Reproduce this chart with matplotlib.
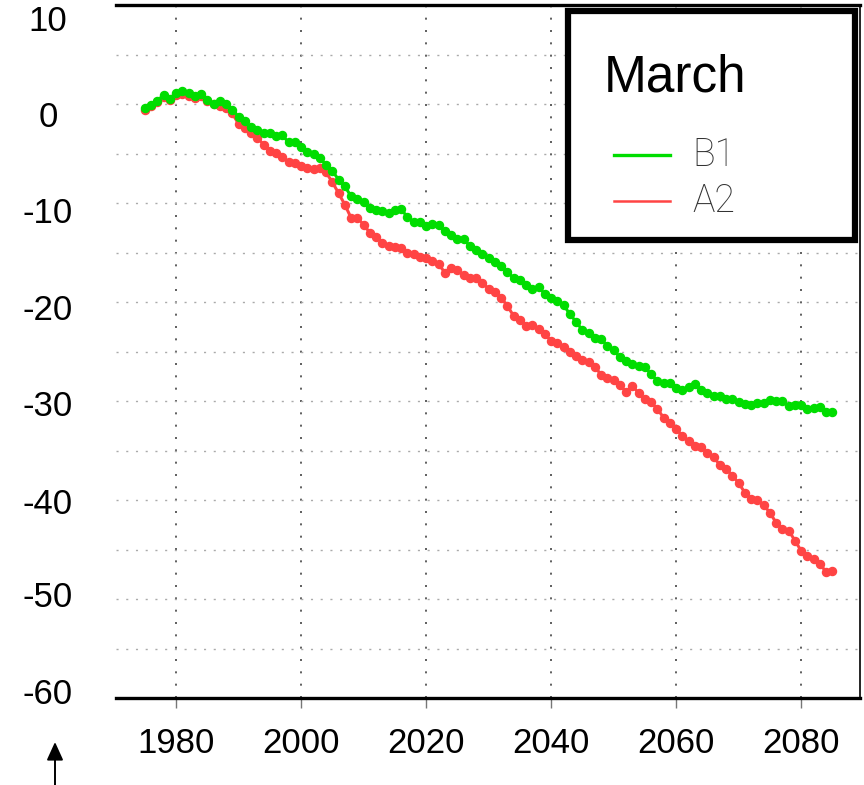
import matplotlib
matplotlib.use("Agg")
import matplotlib.pyplot as plt
import matplotlib.transforms as mtransforms
from matplotlib.lines import Line2D
from matplotlib.patches import Rectangle, FancyArrowPatch
import numpy as np

plt.rcParams['font.family'] = ['Liberation Sans', 'DejaVu Sans']

years = list(range(1975, 2086))

b1 = [-0.44, -0.10, 0.30, 0.91, 0.55, 1.10, 1.32, 1.07, 0.78, 0.99,
      0.44, -0.02, 0.27, 0.03, -0.57, -1.28, -1.73, -2.35, -2.58, -2.95,
      -2.89, -3.22, -3.17, -3.87, -3.82, -4.30, -4.80, -5.09, -5.47, -6.14,
      -6.75, -7.65, -8.31, -9.33, -9.57, -9.90, -10.5, -10.7, -10.8, -11.0,
      -10.7, -10.63, -11.4, -11.9, -11.95, -12.35, -12.15, -12.25, -12.83, -13.25,
      -13.6, -13.63, -14.37, -14.7, -15.2, -15.54, -15.95, -16.38, -16.99, -17.56,
      -17.79, -18.33, -18.66, -18.46, -19.23, -19.64, -19.9, -20.3, -21.25, -22.0,
      -22.86, -23.1, -23.6, -23.77, -24.4, -24.84, -25.6, -25.95, -26.28, -26.45,
      -26.6, -27.3, -27.96, -28.2, -28.2, -28.7, -28.9, -28.57, -28.3, -28.9,
      -29.2, -29.47, -29.47, -29.8, -29.8, -30.14, -30.3, -30.38, -30.2, -30.25,
      -29.88, -30.04, -30.04, -30.55, -30.38, -30.38, -30.8, -30.75, -30.65, -31.15,
      -31.08]

a2 = [-0.60, -0.20, 0.20, 0.67, 0.45, 0.87, 1.00, 0.80, 0.60, 0.76,
      0.30, -0.05, -0.24, -0.45, -0.95, -2.00, -2.45, -2.90, -3.40, -4.10,
      -4.70, -4.90, -5.35, -5.85, -5.95, -6.25, -6.50, -6.60, -6.45, -6.90,
      -7.90, -9.00, -10.17, -11.5, -11.5, -12.19, -13.0, -13.4, -14.0, -14.3,
      -14.4, -14.5, -15.05, -15.2, -15.42, -15.6, -15.85, -16.15, -17.05, -16.55,
      -16.8, -17.3, -17.56, -17.6, -18.06, -18.66, -19.0, -19.57, -20.4, -21.4,
      -21.8, -22.4, -22.36, -22.76, -23.26, -23.9, -24.17, -24.5, -25.1, -25.45,
      -25.85, -26.1, -26.55, -27.36, -27.7, -27.9, -28.36, -29.1, -28.47, -29.2,
      -29.8, -30.14, -30.8, -31.7, -32.26, -32.8, -33.57, -34.07, -34.5, -34.68,
      -35.28, -35.7, -36.46, -36.86, -37.53, -38.3, -39.27, -39.9, -40.05, -40.5,
      -41.3, -42.3, -42.9, -43.1, -44.1, -45.15, -45.65, -46.0, -46.5, -47.26,
      -47.16]

xticks = [1980, 2000, 2020, 2040, 2060, 2080]
yticks = [10, 0, -10, -20, -30, -40, -50, -60]
ylabel_pos = [8.29, -1.36, -11.11, -20.81, -30.6, -40.5, -49.8, -59.6]
legend_title = "March"
series_names = ["B1", "A2"]
green = '#00dd00'
red = '#ff4444'

W, H = 864, 785
fig = plt.figure(figsize=(W / 100, H / 100), dpi=100)
ax = fig.add_axes([116 / W, 1 - 698 / H, (860 - 116) / W, (698 - 5) / H])

ax.plot(years, a2, color=red, lw=2.2, marker='o', ms=5.8, mec=red, mfc=red, zorder=3)
ax.plot(years, b1, color=green, lw=2.2, marker='o', ms=5.8, mec=green, mfc=green, zorder=4)

ax.set_xlim(1970.4, 2089.4)
ax.set_ylim(-60, 10)

# x ticks / grid
ax.set_xticks(xticks)
ax.set_xticklabels([str(x) for x in xticks], fontsize=25)
ax.tick_params(axis='x', direction='out', length=7, width=1, color='#777777', pad=14)
ax.xaxis.grid(True, color='#444444', lw=1.2, dashes=(1.2, 6.2))

# y grid via minor ticks
ax.set_yticks(np.arange(-60, 11, 5), minor=True)
ax.set_yticks([])
ax.tick_params(axis='y', which='both', length=0, labelleft=False)
ax.yaxis.grid(True, which='minor', color='#aaaaaa', lw=1.0, dashes=(1.5, 5.5))
ax.set_axisbelow(True)

trans = mtransforms.blended_transform_factory(ax.transAxes, ax.transData)
x_lab = (48 - 116) / (860 - 116)
for v, p in zip(yticks, ylabel_pos):
    ax.text(x_lab, p, str(v), transform=trans, ha='center', va='center',
            fontsize=25, clip_on=False)

ax.spines['left'].set_visible(False)
ax.spines['top'].set_linewidth(2.4)
ax.spines['bottom'].set_linewidth(2.4)
ax.spines['right'].set_linewidth(1.2)

# legend (drawn in figure pixel coordinates)
def fx(px):
    return px / W

def fy(py):
    return 1 - py / H

fig.patches.append(Rectangle((fx(568), fy(240)), fx(855) - fx(568), fy(11) - fy(240),
                             transform=fig.transFigure, fill=True, facecolor='white',
                             edgecolor='black', lw=4.5, zorder=10))
fig.text(fx(604), fy(92), legend_title, fontsize=37, ha='left', va='baseline', zorder=11)
for name, col, yy, lw in [(series_names[0], green, 155, 2.4), (series_names[1], red, 201, 1.8)]:
    fig.lines.append(Line2D([fx(614), fx(670)], [fy(yy), fy(yy)], transform=fig.transFigure,
                            color=col, lw=lw, zorder=11))
    fig.text(fx(692), fy(yy), name, fontsize=27, ha='left', va='center',
             family=['Roboto', 'Liberation Sans', 'DejaVu Sans'], fontweight='light',
             color='#333333', zorder=11)

# arrow bottom-left
fig.patches.append(FancyArrowPatch((fx(55), fy(786)), (fx(55), fy(742)),
                   transform=fig.transFigure, arrowstyle='-|>,head_length=11,head_width=5',
                   mutation_scale=1, color='black', lw=1.4, shrinkA=0, shrinkB=0))

fig.savefig('out.png', dpi=100)
